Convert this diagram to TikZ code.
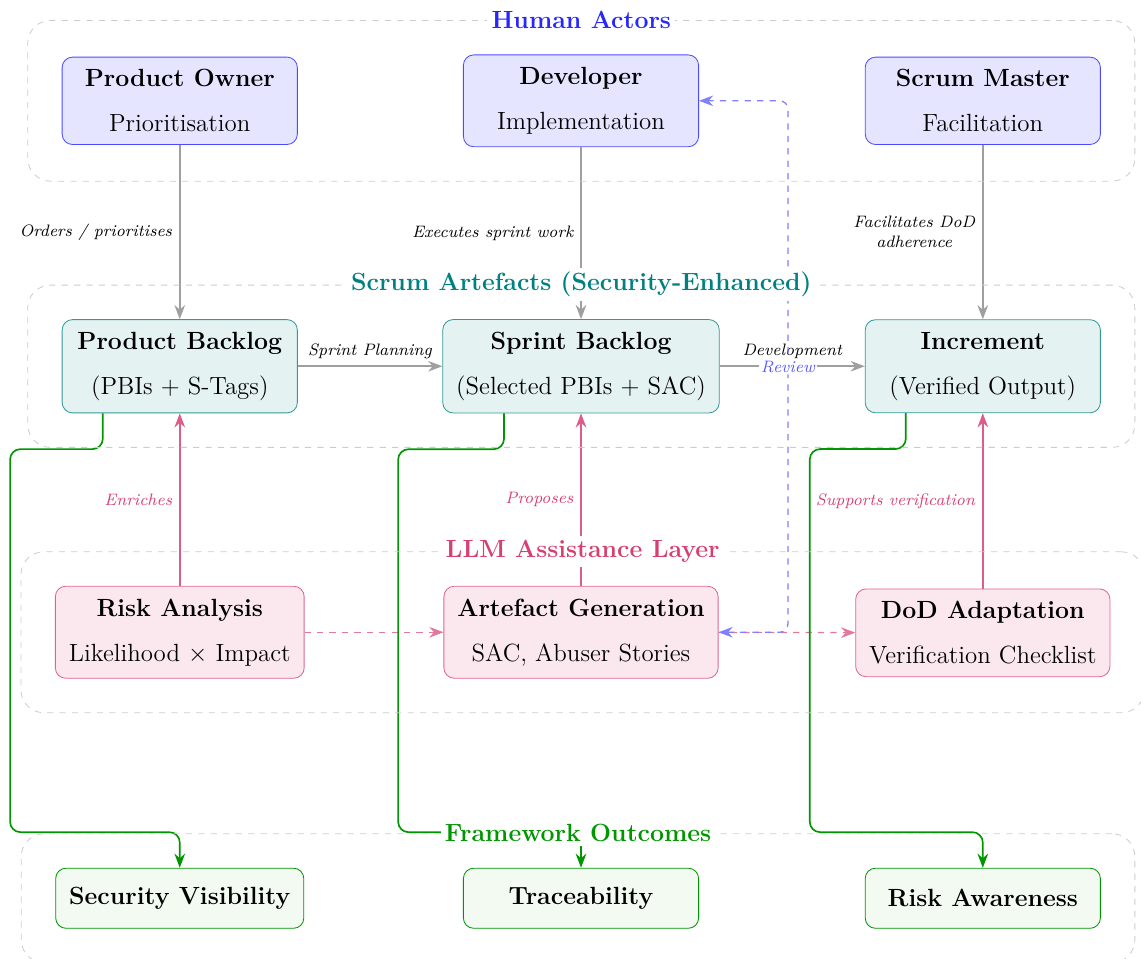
\documentclass[tikz,border=0pt]{standalone}
\usetikzlibrary{arrows.meta,fit,positioning}
\definecolor{llmrose}{RGB}{214,64,112}
\definecolor{outgreen}{RGB}{0,150,0}
\begin{document}
\begin{tikzpicture}[x=0.95cm, y=0.95cm,
  actor/.style={draw=blue!70, fill=blue!10, rounded corners=5pt, align=center, font=\large, minimum width=3.99cm, inner xsep=6.5pt, inner ysep=6pt},
  artefact/.style={actor, draw=teal!80, fill=teal!10},
  llm/.style={actor, draw=llmrose!80, fill=llmrose!12},
  outcome/.style={actor, draw=outgreen, fill=outgreen!5, minimum height=1.02cm},
  layer/.style={draw=gray!40, dashed, rounded corners=11pt, inner sep=0.577cm},
  layertitle/.style={fill=white, font=\large\bfseries, inner sep=2pt},
  flow/.style={-{Stealth[length=2.4mm]}, gray!75, thick},
  enrich/.style={-{Stealth[length=2.4mm]}, llmrose!85, thick},
  feed/.style={-{Stealth[length=2.4mm]}, llmrose!70, dashed, semithick},
  review/.style={{Stealth[length=2.4mm]}-{Stealth[length=2.4mm]}, blue!50, dashed, semithick, rounded corners=4pt},
  result/.style={-{Stealth[length=2.4mm]}, outgreen, thick, rounded corners=5pt},
  lbl/.style={font=\footnotesize\itshape, text=black},
]
\useasboundingbox (0,0) rectangle (20.375,-17.107);

    \node[actor] (po)  at (3.21,-1.80)   {\textbf{Product Owner}\\[2.7mm] Prioritisation};
    \node[actor] (dev) at (10.375,-1.80) {\textbf{Developer}\\[2.7mm] Implementation};
    \node[actor] (sm)  at (17.55,-1.80)  {\textbf{Scrum Master}\\[2.7mm] Facilitation};

    \node[artefact] (pb)  at (3.21,-6.54)   {\textbf{Product Backlog}\\[2.7mm] (PBIs + S-Tags)};
    \node[artefact] (sb)  at (10.375,-6.54) {\textbf{Sprint Backlog}\\[2.7mm] (Selected PBIs + SAC)};
    \node[artefact] (inc) at (17.55,-6.54)  {\textbf{Increment}\\[2.7mm] (Verified Output)};

    \node[llm] (ra)  at (3.21,-11.29)   {\textbf{Risk Analysis}\\[2.7mm] Likelihood $\times$ Impact};
    \node[llm] (ag)  at (10.375,-11.29) {\textbf{Artefact Generation}\\[2.7mm] SAC, Abuser Stories};
    \node[llm] (dod) at (17.55,-11.30)  {\textbf{DoD Adaptation}\\[2.7mm] Verification Checklist};

    \node[outcome] (sv) at (3.21,-16.04)   {\textbf{Security Visibility}};
    \node[outcome] (tr) at (10.375,-16.04) {\textbf{Traceability}};
    \node[outcome] (rw) at (17.55,-16.04)  {\textbf{Risk Awareness}};

    \draw[flow] (po)  -- node[lbl, left] {Orders / prioritises} (pb);
    \draw[flow] (dev) -- node[lbl, left] {Executes sprint work} (sb);
    \draw[flow] (sm)  -- node[lbl, left, align=center] {Facilitates DoD\\adherence} (inc);
    \draw[flow] (pb)  -- node[lbl, above] {Sprint Planning} (sb);
    \draw[flow] (sb)  -- node[lbl, above] {Development} (inc);

    \draw[enrich] (ra)  -- node[lbl, left, text=llmrose] {Enriches} (pb);
    \draw[enrich] (ag)  -- node[lbl, left, text=llmrose] {Proposes} (sb);
    \draw[enrich] (dod) -- node[lbl, left, text=llmrose] {Supports verification} (inc);
    \draw[feed] (ra) -- (ag);
    \draw[feed] (ag) -- (dod);

    \coordinate (revlow) at (14.07,-11.29);
    \coordinate (revtop) at (14.07,-1.80);
    \draw[review] (ag.east) -- (revlow) -- node[lbl, fill=white, text=blue!65, inner sep=1pt] {Review} (revtop) -- (dev.east);

    \draw[result] ([xshift=-1.306cm]pb.south)  -- ++(0,-0.64) -| (0.18,-14.86)  -| (sv.north);
    \draw[result] ([xshift=-1.306cm]sb.south)  -- ++(0,-0.64) -| (7.11,-14.86)  -| (tr.north);
    \draw[result] ([xshift=-1.306cm]inc.south) -- ++(0,-0.64) -| (14.46,-14.86) -| (rw.north);

    \node[layer, fit=(po)(dev)(sm)] (humans) {};
    \node[layer, fit=(pb)(sb)(inc)] (artefacts) {};
    \node[layer, fit=(ra)(ag)(dod)] (assist) {};
    \node[layer, fit=(sv)(tr)(rw)] (outcomes) {};
    \node[layertitle, text=blue!85]  at (humans.north)    {Human Actors};
    \node[layertitle, text=teal]     at (artefacts.north) {Scrum Artefacts (Security-Enhanced)};
    \node[layertitle, text=llmrose]  at (assist.north)    {LLM Assistance Layer};
    \node[layertitle, text=outgreen] at (outcomes.north)  {Framework Outcomes};
\end{tikzpicture}
\end{document}
